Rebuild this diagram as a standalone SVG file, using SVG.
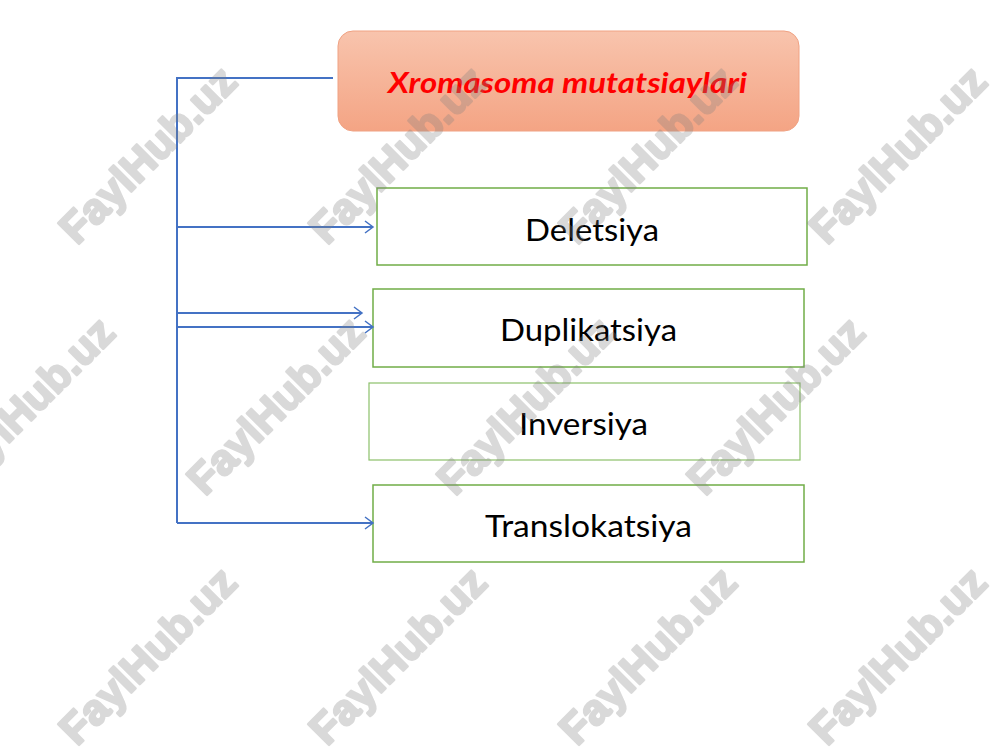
<svg xmlns="http://www.w3.org/2000/svg" width="1000" height="750" viewBox="0 0 1000 750">
<defs>
<linearGradient id="tg" x1="0" y1="0" x2="0" y2="1">
<stop offset="0" stop-color="#f8c4ad"/>
<stop offset="1" stop-color="#f4a484"/>
</linearGradient>
<marker id="ah" markerWidth="12" markerHeight="14" refX="10" refY="7" orient="auto" markerUnits="userSpaceOnUse">
<path d="M2,1 L10,7 L2,13" fill="none" stroke="#4472c4" stroke-width="1.5"/>
</marker>
<style>
.box{fill:#ffffff;stroke:#70ad47;stroke-width:1.5}
.lbl{font-family:Lato,"Open Sans","Liberation Sans",sans-serif;font-size:30px;fill:#000000}
.ttl{font-family:Lato,"Open Sans","Liberation Sans",sans-serif;font-size:28px;font-weight:bold;font-style:italic;fill:#ff0000}
.con{fill:none;stroke:#4472c4;stroke-width:2}
.wm{font-family:"Liberation Sans",Arial,sans-serif;font-size:43px;font-weight:bold;fill:#808080;stroke:#808080;stroke-width:2.5;stroke-linejoin:round;text-anchor:middle}
</style>
</defs>
<rect width="1000" height="750" fill="#ffffff"/>

<g id="title">
<rect x="338" y="31" width="461" height="100" rx="15" fill="url(#tg)" stroke="#f0a283" stroke-width="1"/>
<text class="ttl" x="388" y="93" textLength="359" lengthAdjust="spacingAndGlyphs">Xromasoma mutatsiaylari</text>
</g>
<g id="deletsiya">
<rect class="box" x="377" y="188" width="430" height="77"/>
<text class="lbl" x="525" y="241" textLength="134" lengthAdjust="spacingAndGlyphs">Deletsiya</text>
</g>
<g id="duplikatsiya">
<rect class="box" x="373" y="289" width="431" height="78"/>
<text class="lbl" x="500" y="341" textLength="177" lengthAdjust="spacingAndGlyphs">Duplikatsiya</text>
</g>
<g id="inversiya">
<rect class="box" x="369" y="383" width="431" height="77" style="stroke:#8cc06a;stroke-width:1.2"/>
<text class="lbl" x="519" y="435" textLength="129" lengthAdjust="spacingAndGlyphs">Inversiya</text>
</g>
<g id="translokatsiya">
<rect class="box" x="373" y="485" width="431" height="77"/>
<text class="lbl" x="485" y="537" textLength="207" lengthAdjust="spacingAndGlyphs">Translokatsiya</text>
</g>

<g id="connectors">
<polyline class="con" points="333,78 177,78 177,523"/>
<line class="con" x1="177" y1="227" x2="373" y2="227" marker-end="url(#ah)"/>
<line class="con" x1="177" y1="313" x2="362" y2="313" marker-end="url(#ah)"/>
<line class="con" x1="177" y1="327" x2="373" y2="327" marker-end="url(#ah)"/>
<line class="con" x1="177" y1="523" x2="373" y2="523" marker-end="url(#ah)"/>
</g>

<g id="watermarks" opacity="0.3">
<text class="wm" transform="translate(158,165) rotate(-45)">FaylHub.uz</text>
<text class="wm" transform="translate(408,165) rotate(-45)">FaylHub.uz</text>
<text class="wm" transform="translate(658,165) rotate(-45)">FaylHub.uz</text>
<text class="wm" transform="translate(908,165) rotate(-45)">FaylHub.uz</text>
<text class="wm" transform="translate(36,416) rotate(-45)">FaylHub.uz</text>
<text class="wm" transform="translate(286,416) rotate(-45)">FaylHub.uz</text>
<text class="wm" transform="translate(536,416) rotate(-45)">FaylHub.uz</text>
<text class="wm" transform="translate(786,416) rotate(-45)">FaylHub.uz</text>
<text class="wm" transform="translate(158,666) rotate(-45)">FaylHub.uz</text>
<text class="wm" transform="translate(408,666) rotate(-45)">FaylHub.uz</text>
<text class="wm" transform="translate(658,666) rotate(-45)">FaylHub.uz</text>
<text class="wm" transform="translate(908,666) rotate(-45)">FaylHub.uz</text>
</g>
</svg>
